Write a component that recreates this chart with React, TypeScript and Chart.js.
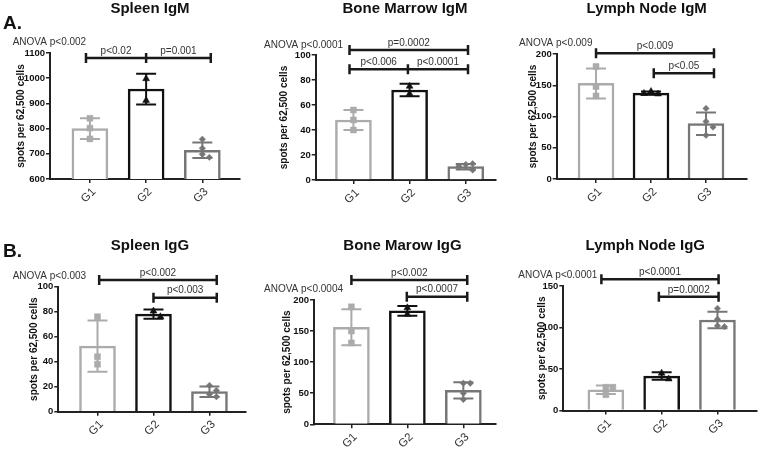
import React, { useEffect, useRef } from "react";
import { Chart, registerables } from "chart.js";
Chart.register(...registerables);

const FONT = '"Liberation Sans", Arial, Helvetica, sans-serif';
const GROUPS = ["G1", "G2", "G3"];
const GROUP_COLORS = ["#ababab", "#111111", "#767676"];
const GROUP_MARKERS = ["rect", "triangle", "rectRot"];
const GROUP_RADII = [4.2, 4, 3.2];
const Y_TITLE = "spots per 62,500 cells";

// ---- Spleen IgM ----
const spleenIgMMeans = [800, 957, 714];
const spleenIgMSD = [41, 61, 31];
const spleenIgMG1 = [841, 802, 759];
const spleenIgMG2 = [998, 912];
const spleenIgMG3 = [758, 722, 698, 686];
const spleenIgMTicks = [600, 1100, 100];

// ---- Bone Marrow IgM ----
const boneMarrowIgMMeans = [48, 72, 10.7];
const boneMarrowIgMSD = [8, 5, 2.2];
const boneMarrowIgMG1 = [56, 48, 40];
const boneMarrowIgMG2 = [75, 69];
const boneMarrowIgMG3 = [12.5, 8, 11, 13];
const boneMarrowIgMTicks = [0, 100, 20];

// ---- Lymph Node IgM ----
const lymphNodeIgMMeans = [153, 137.5, 88.5];
const lymphNodeIgMSD = [24, 2.5, 18];
const lymphNodeIgMG1 = [180, 148, 133];
const lymphNodeIgMG2 = [140, 136, 137];
const lymphNodeIgMG3 = [113, 92, 83, 70];
const lymphNodeIgMTicks = [0, 200, 50];

// ---- Spleen IgG ----
const spleenIgGMeans = [52.5, 78, 16];
const spleenIgGSD = [20.5, 3.7, 4.2];
const spleenIgGG1 = [76, 44, 38];
const spleenIgGG2 = [80.5, 76];
const spleenIgGG3 = [21, 17, 14, 12];
const spleenIgGTicks = [0, 100, 20];

// ---- Bone Marow IgG ----
const boneMarowIgGMeans = [156, 182.5, 54.5];
const boneMarowIgGSD = [29, 8, 13];
const boneMarowIgGG1 = [189, 150, 131];
const boneMarowIgGG2 = [187.5, 177];
const boneMarowIgGG3 = [66, 66, 50, 40];
const boneMarowIgGTicks = [0, 200, 50];

// ---- Lymph Node IgG ----
const lymphNodeIgGMeans = [25, 41.5, 109];
const lymphNodeIgGSD = [5, 4.5, 10];
const lymphNodeIgGG1 = [28, 28, 19];
const lymphNodeIgGG2 = [45, 38];
const lymphNodeIgGG3 = [123, 110, 102, 101];
const lymphNodeIgGTicks = [0, 150, 50];

type Bracket = { y: number; xs: number[]; labels: string[] };
type PanelCfg = {
  title: string;
  titlePos: [number, number];
  letter?: { text: string; x: number; y: number };
  anova: { text: string; x: number; y: number };
  means: number[];
  sds: number[];
  points: number[][];
  ticks: number[];
  brackets: Bracket[];
  box: { left: number; top: number; width: number; height: number };
  area: { l: number; t: number; r: number; b: number };
  xRange: [number, number];
  yTitleX: number;
};

const PANELS: PanelCfg[] = [
  {
    title: "Spleen IgM", titlePos: [150, 12.7],
    letter: { text: "A.", x: 3, y: 28.5 },
    anova: { text: "ANOVA p<0.002", x: 12.7, y: 42 },
    means: spleenIgMMeans, sds: spleenIgMSD,
    points: [spleenIgMG1, spleenIgMG2, spleenIgMG3], ticks: spleenIgMTicks,
    brackets: [{ y: 1080, xs: [-0.07, 1.0, 2.15], labels: ["p<0.02", "p=0.001"] }],
    box: { left: 0, top: 0, width: 250, height: 225 },
    area: { l: 50, t: 53, r: 240, b: 179 },
    xRange: [-0.71, 2.67], yTitleX: 21.5,
  },
  {
    title: "Bone Marrow IgM", titlePos: [155, 12.7],
    anova: { text: "ANOVA p<0.0001", x: 14, y: 45 },
    means: boneMarrowIgMMeans, sds: boneMarrowIgMSD,
    points: [boneMarrowIgMG1, boneMarrowIgMG2, boneMarrowIgMG3], ticks: boneMarrowIgMTicks,
    brackets: [
      { y: 104, xs: [-0.07, 2.04], labels: ["p=0.0002"] },
      { y: 88.6, xs: [-0.07, 0.97, 2.04], labels: ["p<0.006", "p<0.0001"] },
    ],
    box: { left: 250, top: 0, width: 250, height: 225 },
    area: { l: 65.7, t: 55, r: 248, b: 180 },
    xRange: [-0.672, 2.526], yTitleX: 34.5,
  },
  {
    title: "Lymph Node IgM", titlePos: [146.7, 12.7],
    anova: { text: "ANOVA p<0.009", x: 19, y: 43 },
    means: lymphNodeIgMMeans, sds: lymphNodeIgMSD,
    points: [lymphNodeIgMG1, lymphNodeIgMG2, lymphNodeIgMG3], ticks: lymphNodeIgMTicks,
    brackets: [
      { y: 201.4, xs: [0, 2.145], labels: ["p<0.009"] },
      { y: 169.3, xs: [1.05, 2.145], labels: ["p<0.05"] },
    ],
    box: { left: 500, top: 0, width: 261, height: 225 },
    area: { l: 56.7, t: 54, r: 246.7, b: 179 },
    xRange: [-0.715, 2.74], yTitleX: 33.5,
  },
  {
    title: "Spleen IgG", titlePos: [150, 21.5],
    letter: { text: "B.", x: 3, y: 28.7 },
    anova: { text: "ANOVA p<0.003", x: 12.7, y: 48 },
    means: spleenIgGMeans, sds: spleenIgGSD,
    points: [spleenIgGG1, spleenIgGG2, spleenIgGG3], ticks: spleenIgGTicks,
    brackets: [
      { y: 105.3, xs: [0.03, 2.13], labels: ["p<0.002"] },
      { y: 91.2, xs: [1.0, 2.13], labels: ["p<0.003"] },
    ],
    box: { left: 0, top: 228, width: 250, height: 225 },
    area: { l: 58.3, t: 58.7, r: 246.7, b: 183.7 },
    xRange: [-0.7, 2.64], yTitleX: 34,
  },
  {
    title: "Bone Marow IgG", titlePos: [152.5, 21.5],
    anova: { text: "ANOVA p<0.0004", x: 14, y: 61.3 },
    means: boneMarowIgGMeans, sds: boneMarowIgGSD,
    points: [boneMarowIgGG1, boneMarowIgGG2, boneMarowIgGG3], ticks: boneMarowIgGTicks,
    brackets: [
      { y: 232, xs: [0, 2.07], labels: ["p<0.002"] },
      { y: 205.3, xs: [0.99, 2.07], labels: ["p<0.0007"] },
    ],
    box: { left: 250, top: 228, width: 250, height: 225 },
    area: { l: 64, t: 72, r: 248.3, b: 196.3 },
    xRange: [-0.668, 2.571], yTitleX: 37.7,
  },
  {
    title: "Lymph Node IgG", titlePos: [145.3, 21.5],
    anova: { text: "ANOVA p<0.0001", x: 18.3, y: 47 },
    means: lymphNodeIgGMeans, sds: lymphNodeIgGSD,
    points: [lymphNodeIgGG1, lymphNodeIgGG2, lymphNodeIgGG3], ticks: lymphNodeIgGTicks,
    brackets: [
      { y: 158, xs: [-0.08, 2.02], labels: ["p<0.0001"] },
      { y: 137, xs: [0.95, 2.02], labels: ["p=0.0002"] },
    ],
    box: { left: 500, top: 228, width: 261, height: 225 },
    area: { l: 63.3, t: 58, r: 257, b: 182.5 },
    xRange: [-0.7625, 2.696], yTitleX: 42.7,
  },
];

// spread overlapping points sideways (like a column scatter)
function spreadSteps(values: number[], yPxPerUnit: number): number[] {
  const placed: { v: number; s: number }[] = [];
  const steps = [0, 1, -1, 2, -2, 3, -3];
  return values.map((v) => {
    for (const s of steps) {
      const ok = placed.every((p) => Math.abs(p.v - v) * yPxPerUnit >= 6 || p.s !== s);
      if (ok) {
        placed.push({ v, s });
        return s;
      }
    }
    return 0;
  });
}

function Panel({ cfg }: { cfg: PanelCfg }) {
  const ref = useRef<HTMLCanvasElement>(null);
  useEffect(() => {
    const c = cfg;
    const [yMin, yMax, yStep] = c.ticks;
    const yPx = (c.area.b - c.area.t) / (yMax - yMin);
    const xPx = (c.area.r - c.area.l) / (c.xRange[1] - c.xRange[0]);
    const scatter: { x: number; y: number }[] = [];
    const styles: string[] = [];
    const colors: string[] = [];
    const radii: number[] = [];
    c.points.forEach((vals, g) => {
      const st = spreadSteps(vals, yPx);
      vals.forEach((v, k) => {
        scatter.push({ x: g + (st[k] * 7) / xPx, y: v });
        styles.push(GROUP_MARKERS[g]);
        colors.push(GROUP_COLORS[g]);
        radii.push(GROUP_RADII[g]);
      });
    });

    const annot = {
      id: "annot",
      afterDatasetDraw(chart: any, args: any) {
        if (args.index !== 0) return;
        const ctx = chart.ctx;
        const xs = chart.scales.x;
        const ys = chart.scales.y;
        ctx.save();
        c.means.forEach((m: number, i: number) => {
          const x = xs.getPixelForValue(i);
          const t = ys.getPixelForValue(m + c.sds[i]);
          const b = ys.getPixelForValue(m - c.sds[i]);
          ctx.strokeStyle = GROUP_COLORS[i];
          ctx.lineWidth = 2;
          ctx.beginPath();
          ctx.moveTo(x, t);
          ctx.lineTo(x, b);
          ctx.moveTo(x - 10, t);
          ctx.lineTo(x + 10, t);
          ctx.moveTo(x - 10, b);
          ctx.lineTo(x + 10, b);
          ctx.stroke();
        });
        ctx.restore();
      },
      afterDraw(chart: any) {
        const ctx = chart.ctx;
        const xs = chart.scales.x;
        const ys = chart.scales.y;
        ctx.save();
        // brackets
        c.brackets.forEach((br) => {
          const y = ys.getPixelForValue(br.y);
          const px = br.xs.map((v) => xs.getPixelForValue(v));
          ctx.strokeStyle = "#1a1a1a";
          ctx.lineWidth = 2.5;
          ctx.beginPath();
          ctx.moveTo(px[0], y);
          ctx.lineTo(px[px.length - 1], y);
          px.forEach((p) => {
            ctx.moveTo(p, y - 5);
            ctx.lineTo(p, y + 5);
          });
          ctx.stroke();
          ctx.fillStyle = "#333";
          ctx.font = `10px ${FONT}`;
          ctx.textAlign = "center";
          ctx.textBaseline = "middle";
          br.labels.forEach((lab, k) => {
            ctx.fillText(lab, (px[k] + px[k + 1]) / 2, y - 7);
          });
        });
        // anova
        ctx.fillStyle = "#333";
        ctx.font = `10px ${FONT}`;
        ctx.textAlign = "left";
        ctx.textBaseline = "middle";
        ctx.fillText(c.anova.text, c.anova.x, c.anova.y);
        // title
        ctx.fillStyle = "#111";
        ctx.font = `bold 15px ${FONT}`;
        ctx.textAlign = "center";
        ctx.textBaseline = "alphabetic";
        ctx.fillText(c.title, c.titlePos[0], c.titlePos[1]);
        if (c.letter) {
          ctx.font = `bold 19px ${FONT}`;
          ctx.textAlign = "left";
          ctx.fillText(c.letter.text, c.letter.x, c.letter.y);
        }
        ctx.restore();
      },
    };

    const xH = c.box.height - c.area.b;
    const yW = c.area.l;
    const chart = new Chart(ref.current as HTMLCanvasElement, {
      type: "bar",
      data: {
        datasets: [
          {
            type: "bar",
            data: c.means.map((m, i) => ({ x: i, y: m })),
            backgroundColor: "#ffffff",
            borderColor: GROUP_COLORS,
            borderWidth: 2.5,
            borderSkipped: "start",
            barThickness: 36,
            order: 2,
          } as any,
          {
            type: "scatter",
            data: scatter,
            pointStyle: styles,
            pointRadius: radii,
            pointBackgroundColor: colors,
            pointBorderColor: colors,
            pointBorderWidth: 0.5,
            order: 1,
          } as any,
        ],
      },
      options: {
        responsive: false,
        maintainAspectRatio: false,
        animation: false,
        events: [],
        layout: { padding: { left: 0, top: c.area.t, right: c.box.width - c.area.r, bottom: 0 } },
        plugins: { legend: { display: false }, tooltip: { enabled: false }, title: { display: false } },
        scales: {
          x: {
            type: "linear",
            min: c.xRange[0],
            max: c.xRange[1],
            offset: false,
            bounds: "data",
            afterBuildTicks: (s: any) => {
              s.ticks = GROUPS.map((_, i) => ({ value: i }));
            },
            afterFit: (s: any) => {
              s.height = xH;
            },
            ticks: {
              callback: (v: any) => GROUPS[Math.round(Number(v))] ?? "",
              minRotation: 45,
              maxRotation: 45,
              autoSkip: false,
              labelOffset: 4,
              padding: 2,
              color: "#333",
              font: { family: FONT, size: 11.5 },
            },
            grid: { display: true, offset: false, drawOnChartArea: false, drawTicks: true, tickLength: 4, color: "#222", lineWidth: 1.5 },
            border: { display: true, color: "#222", width: 2 },
          },
          y: {
            type: "linear",
            min: yMin,
            max: yMax,
            afterFit: (s: any) => {
              s.width = yW;
            },
            ticks: {
              stepSize: yStep,
              padding: 1,
              color: "#111",
              callback: (v: any) => String(v),
              font: { family: FONT, size: 9.5, weight: "bold" },
            },
            title: {
              display: true,
              text: Y_TITLE,
              color: "#111",
              font: { family: FONT, size: 10, weight: "bold" },
              padding: { top: c.yTitleX - 6, bottom: 0 },
            },
            grid: { display: true, drawOnChartArea: false, drawTicks: true, tickLength: 4, color: "#222", lineWidth: 1.5 },
            border: { display: true, color: "#222", width: 2 },
          },
        },
      } as any,
      plugins: [annot],
    });
    return () => chart.destroy();
  }, [cfg]);
  return (
    <div style={{ position: "absolute", left: cfg.box.left, top: cfg.box.top, width: cfg.box.width, height: cfg.box.height }}>
      <canvas ref={ref} width={cfg.box.width} height={cfg.box.height} style={{ display: "block" }} />
    </div>
  );
}

export default function App() {
  return (
    <div style={{ position: "absolute", left: 0, top: 0, width: 761, height: 453, background: "#fff", overflow: "hidden" }}>
      {PANELS.map((p, i) => (
        <Panel key={i} cfg={p} />
      ))}
    </div>
  );
}
